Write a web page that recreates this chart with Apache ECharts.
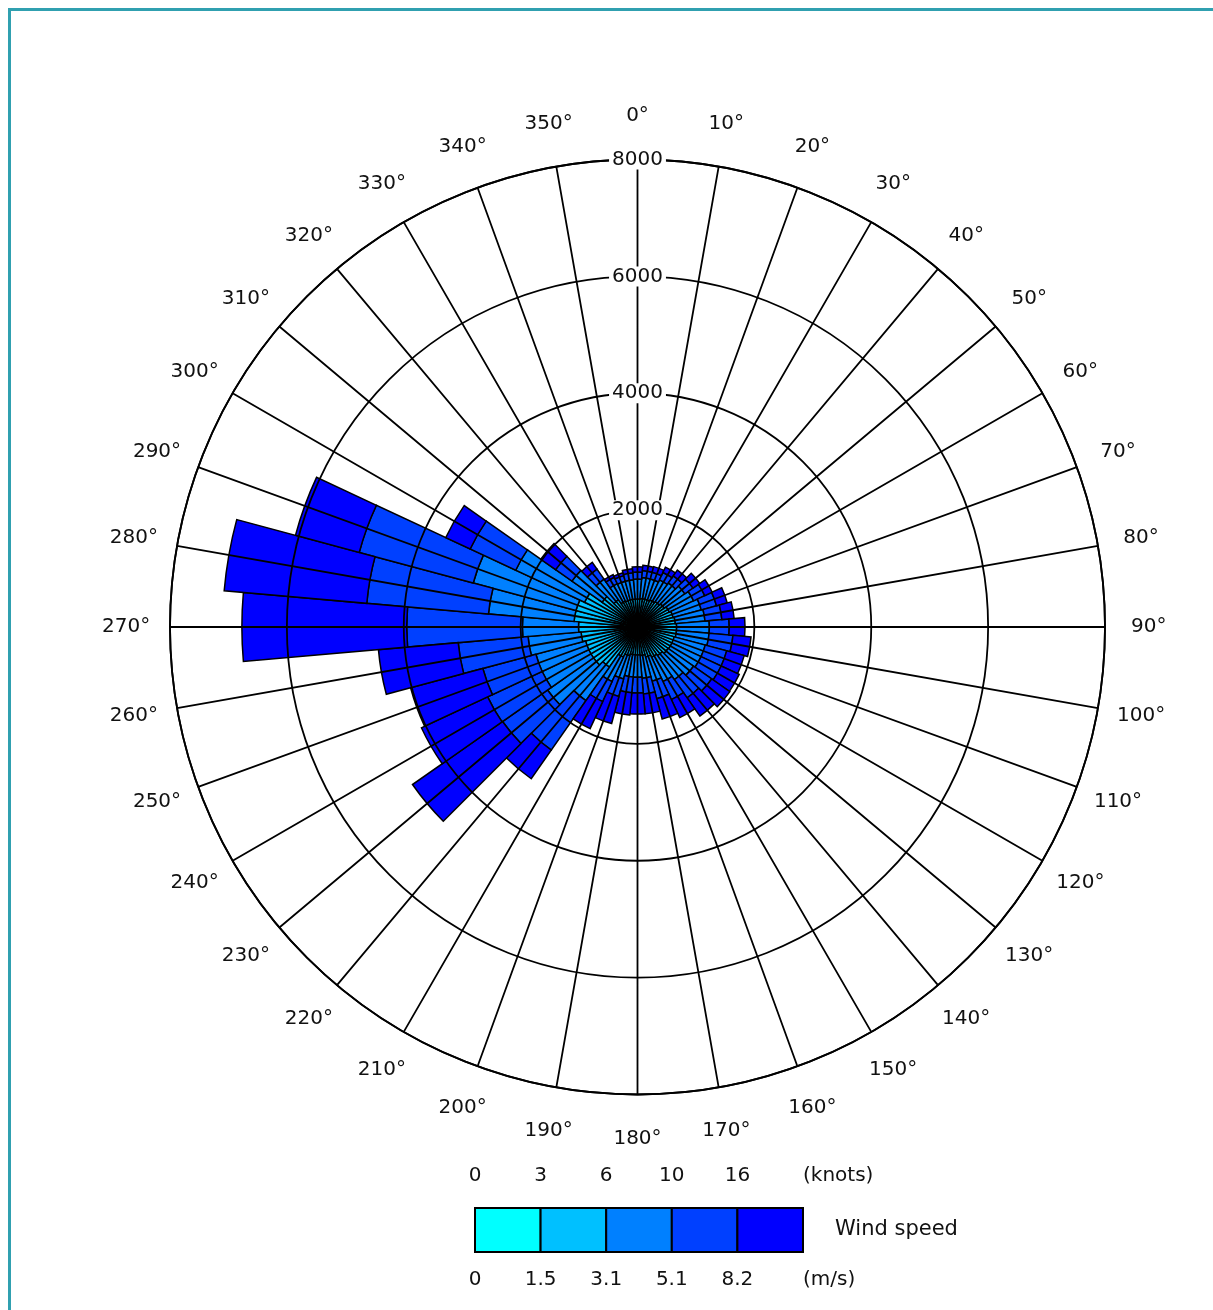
<!DOCTYPE html>
<html><head><meta charset="utf-8">
<script src="https://cdn.jsdelivr.net/npm/echarts@6/dist/echarts.min.js"></script>
<style>
html,body{margin:0;padding:0;background:#fff;overflow:hidden;width:1213px;height:1310px}
#frame{position:absolute;left:8px;top:8px;width:1260px;height:1360px;border:3px solid #30a0b0;box-sizing:border-box}
#chart{position:absolute;left:0;top:0;width:1213px;height:1310px}
</style></head><body>
<div id="frame"></div>
<div id="chart"></div>
<script>
// Wind direction sectors (degrees)
const directions = [0,10,20,30,40,50,60,70,80,90,100,110,120,130,140,150,160,170,
                    180,190,200,210,220,230,240,250,260,270,280,290,300,310,320,330,340,350];
// Speed class boundaries for legend
const knotsLabels = ['0','3','6','10','16'];
const msLabels = ['0','1.5','3.1','5.1','8.2'];
const classNames = ['0-1.5 m/s','1.5-3.1 m/s','3.1-5.1 m/s','5.1-8.2 m/s','>8.2 m/s'];
const classColors = ['#00ffff','#00c0ff','#0080ff','#0040ff','#0000ff'];
const radiusMax = 8000;
const radiusInterval = 2000;

// Counts per direction for each speed class
const speed0_1_5 = [180,180,180,180,180,180,200,200,200,220,220,220,220,220,200,200,200,180,
                    180,180,180,200,220,230,230,230,230,250,250,250,230,220,200,180,180,180];
const speed1_5_3_1 = [300,310,310,330,350,380,400,430,450,450,450,430,430,420,400,370,330,310,
                      300,300,330,370,620,690,690,690,740,760,840,840,770,520,370,310,300,300];
const speed3_1_5_1 = [340,360,360,380,390,430,460,500,510,560,560,550,550,530,500,460,430,390,
                      380,380,410,460,700,960,880,880,910,960,1470,1820,1300,630,430,330,330,330];
const speed5_1_8_2 = [120,120,120,140,150,170,210,270,290,340,410,380,380,380,380,340,310,270,
                      270,270,310,380,1030,940,1030,940,1200,1980,2090,2020,860,340,210,120,100,120];
const speedAbove8_2 = [90,90,100,100,120,140,140,190,210,270,310,310,340,380,380,340,360,340,
                       360,380,480,510,600,1880,1250,1280,1370,2820,2450,1130,460,310,140,50,50,70];
const classData = [speed0_1_5, speed1_5_3_1, speed3_1_5_1, speed5_1_8_2, speedAbove8_2];

const CX = 637.5, CY = 627, R = 467.5;
const LABEL_R = 8750; // radius (in axis units) of the circle the direction labels are centred on
const FONT = 'DejaVu Sans, Verdana, sans-serif';
const TXT = '#111';
const LINE_W = 1.8;
const chart = echarts.init(document.getElementById('chart'), null, {renderer:'canvas'});

const lgX = 475, lgY = 1208, boxW = 65.6, boxH = 44;
const graphics = [];
classColors.forEach((c,i)=>{
  graphics.push({type:'rect', z:10, shape:{x:lgX+i*boxW, y:lgY, width:boxW, height:boxH},
    style:{fill:c, stroke:'#000', lineWidth:2}});
});
knotsLabels.forEach((t,i)=>{
  graphics.push({type:'text', z:10, x:lgX+i*boxW, y:1176,
    style:{text:t, align:'center', verticalAlign:'middle', fontSize:20, fontFamily:FONT, fill:TXT}});
});
msLabels.forEach((t,i)=>{
  graphics.push({type:'text', z:10, x:lgX+i*boxW, y:1280,
    style:{text:t, align:'center', verticalAlign:'middle', fontSize:20, fontFamily:FONT, fill:TXT}});
});
graphics.push({type:'text', z:10, x:803, y:1176, style:{text:'(knots)', align:'left', verticalAlign:'middle', fontSize:20, fontFamily:FONT, fill:TXT}});
graphics.push({type:'text', z:10, x:803, y:1280, style:{text:'(m/s)', align:'left', verticalAlign:'middle', fontSize:20, fontFamily:FONT, fill:TXT}});
graphics.push({type:'text', z:10, x:835, y:1230, style:{text:'Wind speed', align:'left', verticalAlign:'middle', fontSize:21, fontFamily:FONT, fill:TXT}});

const barSeries = classData.map((d,i)=>({
  type:'bar', coordinateSystem:'polar', polarIndex:1, stack:'speed', name:classNames[i],
  data:d, barCategoryGap:'0%', z:2,
  itemStyle:{color:classColors[i], borderColor:'#000', borderWidth:1.5}
}));

const labelSeries = {
  type:'scatter', coordinateSystem:'polar', polarIndex:0, clip:false, silent:true, z:7,
  symbolSize:1, itemStyle:{color:'rgba(255,255,255,0)'},
  data: directions.map(d=>[LABEL_R, d]),
  label:{show:true, position:'inside', formatter:p=>p.value[1]+'°', opacity:1,
    textBorderWidth:0, fontSize:20, fontFamily:FONT, color:TXT}
};

const option = {
  animation:false,
  backgroundColor:'transparent',
  polar:[
    {center:[CX,CY], radius:R},
    {center:[CX,CY], radius:R},
    {center:[CX,CY], radius:R}
  ],
  angleAxis:[
    {polarIndex:0, type:'value', min:0, max:360, interval:10, startAngle:90, clockwise:true, z:3,
      axisLine:{show:true, lineStyle:{color:'#000', width:LINE_W}},
      axisTick:{show:false}, axisLabel:{show:false},
      splitLine:{show:true, lineStyle:{color:'#000', width:LINE_W}}},
    {polarIndex:1, type:'category', data:directions.map(d=>d+'°'), startAngle:95, clockwise:true,
      axisLine:{show:false}, axisTick:{show:false}, axisLabel:{show:false}, splitLine:{show:false}},
    {polarIndex:2, type:'value', min:0, max:360, startAngle:90, clockwise:true,
      axisLine:{show:false}, axisTick:{show:false}, axisLabel:{show:false}, splitLine:{show:false}}
  ],
  radiusAxis:[
    {polarIndex:0, type:'value', min:0, max:radiusMax, interval:radiusInterval, z:3,
      axisLine:{show:false}, axisTick:{show:false}, axisLabel:{show:false},
      splitLine:{show:true, lineStyle:{color:'#000', width:LINE_W}}},
    {polarIndex:1, type:'value', min:0, max:radiusMax, interval:radiusInterval,
      axisLine:{show:false}, axisTick:{show:false}, axisLabel:{show:false}, splitLine:{show:false}},
    {polarIndex:2, type:'value', min:0, max:radiusMax, interval:radiusInterval, z:6,
      axisLine:{show:false}, axisTick:{show:false}, splitLine:{show:false},
      axisLabel:{showMinLabel:false, margin:0, align:'center', verticalAlign:'middle', fontSize:20,
        fontFamily:FONT, color:TXT, backgroundColor:'#fff', padding:[0,3],
        formatter:v=>String(v)}}
  ],
  series: barSeries.concat([labelSeries]),
  graphic: graphics
};
chart.setOption(option);
</script>
</body></html>
